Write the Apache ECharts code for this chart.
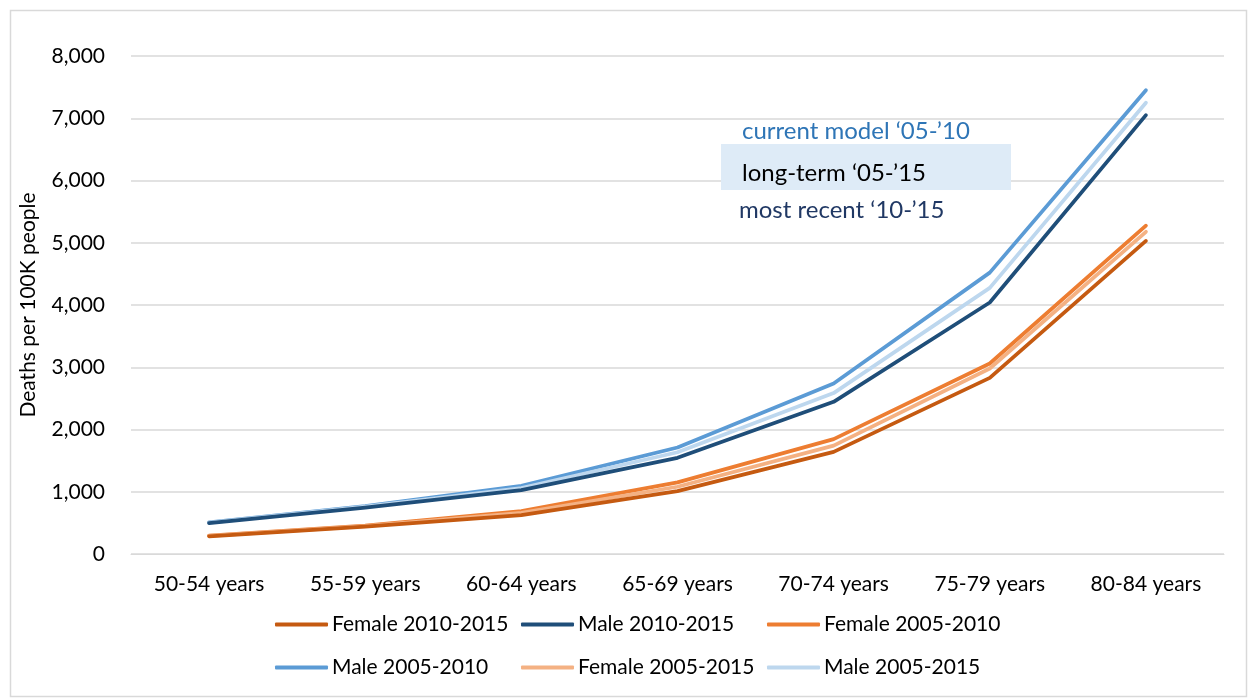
<!DOCTYPE html>
<html>
<head>
<meta charset="utf-8">
<script src="https://cdn.jsdelivr.net/npm/echarts@6/dist/echarts.min.js"></script>
<style>html,body{margin:0;padding:0;background:#fff}#c{width:1250px;height:700px}</style>
</head>
<body>
<div id="c"></div>
<script>
const categories = ['50-54 years','55-59 years','60-64 years','65-69 years','70-74 years','75-79 years','80-84 years'];
const female2010_2015 = [285, 440, 625, 1010, 1640, 2830, 5030];
const male2010_2015   = [495, 745, 1025, 1545, 2445, 4040, 7050];
const female2005_2010 = [295, 455, 690, 1150, 1845, 3060, 5275];
const male2005_2010   = [510, 770, 1095, 1710, 2740, 4520, 7450];
const female2005_2015 = [290, 448, 660, 1080, 1740, 2980, 5175];
const male2005_2015   = [505, 760, 1060, 1635, 2585, 4275, 7250];
const yTicks = [0, 1000, 2000, 3000, 4000, 5000, 6000, 7000, 8000];

const FONT = 'Lato, "Liberation Sans", sans-serif';
const colors = {
  'Female 2010-2015': '#C55A11',
  'Male 2010-2015': '#1F4E79',
  'Female 2005-2010': '#ED7D31',
  'Male 2005-2010': '#5B9BD5',
  'Female 2005-2015': '#F4B183',
  'Male 2005-2015': '#BDD7EE'
};
function mk(name, data) {
  return {
    name, type: 'line', data, symbol: 'none', smooth: false,
    lineStyle: { width: 3.75, color: colors[name], cap: 'round', join: 'round' },
    itemStyle: { color: colors[name] }
  };
}
function legendCol(left, names) {
  return {
    orient: 'vertical', left, top: 609, data: names,
    icon: 'roundRect', itemWidth: 53, itemHeight: 4, itemGap: 22,
    textStyle: { fontFamily: FONT, fontSize: 21, color: '#000', padding: [0,0,0,-1] },
    selectedMode: false
  };
}
const chart = echarts.init(document.getElementById('c'));
chart.setOption({
  animation: false,
  backgroundColor: '#fff',
  grid: { left: 131, right: 26, top: 56, bottom: 146 },
  xAxis: {
    type: 'category', data: categories, boundaryGap: true,
    axisLine: { lineStyle: { color: '#d9d9d9', width: 1 } },
    axisTick: { show: false },
    axisLabel: { fontFamily: FONT, fontSize: 21, color: '#000', margin: 20, interval: 0 }
  },
  yAxis: {
    type: 'value', min: 0, max: 8000, interval: 1000,
    name: 'Deaths per 100K people', nameLocation: 'middle', nameGap: 92, nameRotate: 90,
    nameTextStyle: { fontFamily: FONT, fontSize: 21, color: '#000' },
    axisLine: { show: false }, axisTick: { show: false },
    axisLabel: { fontFamily: FONT, fontSize: 21, color: '#000', margin: 26,
      formatter: v => yTicks.includes(v) ? v.toLocaleString('en-US') : '' },
    splitLine: { lineStyle: { color: '#d9d9d9', width: 1.5 } }
  },
  legend: [
    legendCol(270, ['Female 2010-2015', 'Male 2005-2010']),
    legendCol(516, ['Male 2010-2015', 'Female 2005-2015']),
    legendCol(762, ['Female 2005-2010', 'Male 2005-2015'])
  ],
  series: [
    mk('Male 2005-2010', male2005_2010),
    mk('Male 2005-2015', male2005_2015),
    mk('Male 2010-2015', male2010_2015),
    mk('Female 2005-2010', female2005_2010),
    mk('Female 2005-2015', female2005_2015),
    mk('Female 2010-2015', female2010_2015)
  ],
  graphic: [
    { type: 'rect', left: 8, top: 8, shape: { width: 1236, height: 686 }, style: { fill: 'none', stroke: '#d9d9d9', lineWidth: 1.5 }, silent: true },
    { type: 'rect', left: 721, top: 144, shape: { width: 290, height: 46 }, style: { fill: '#DEEBF7' }, z: 10 },
    { type: 'text', x: 742, y: 131, style: { text: 'current model \u201805-\u201910', fontFamily: FONT, fontSize: 24, fill: '#2E75B6', verticalAlign: 'middle' }, z: 11 },
    { type: 'text', x: 742, y: 173, style: { text: 'long-term \u201805-\u201915', fontFamily: FONT, fontSize: 24, fill: '#000', verticalAlign: 'middle' }, z: 11 },
    { type: 'text', x: 739, y: 210, style: { text: 'most recent \u201810-\u201915', fontFamily: FONT, fontSize: 24, fill: '#203864', verticalAlign: 'middle' }, z: 11 }
  ]
});
</script>
</body>
</html>
